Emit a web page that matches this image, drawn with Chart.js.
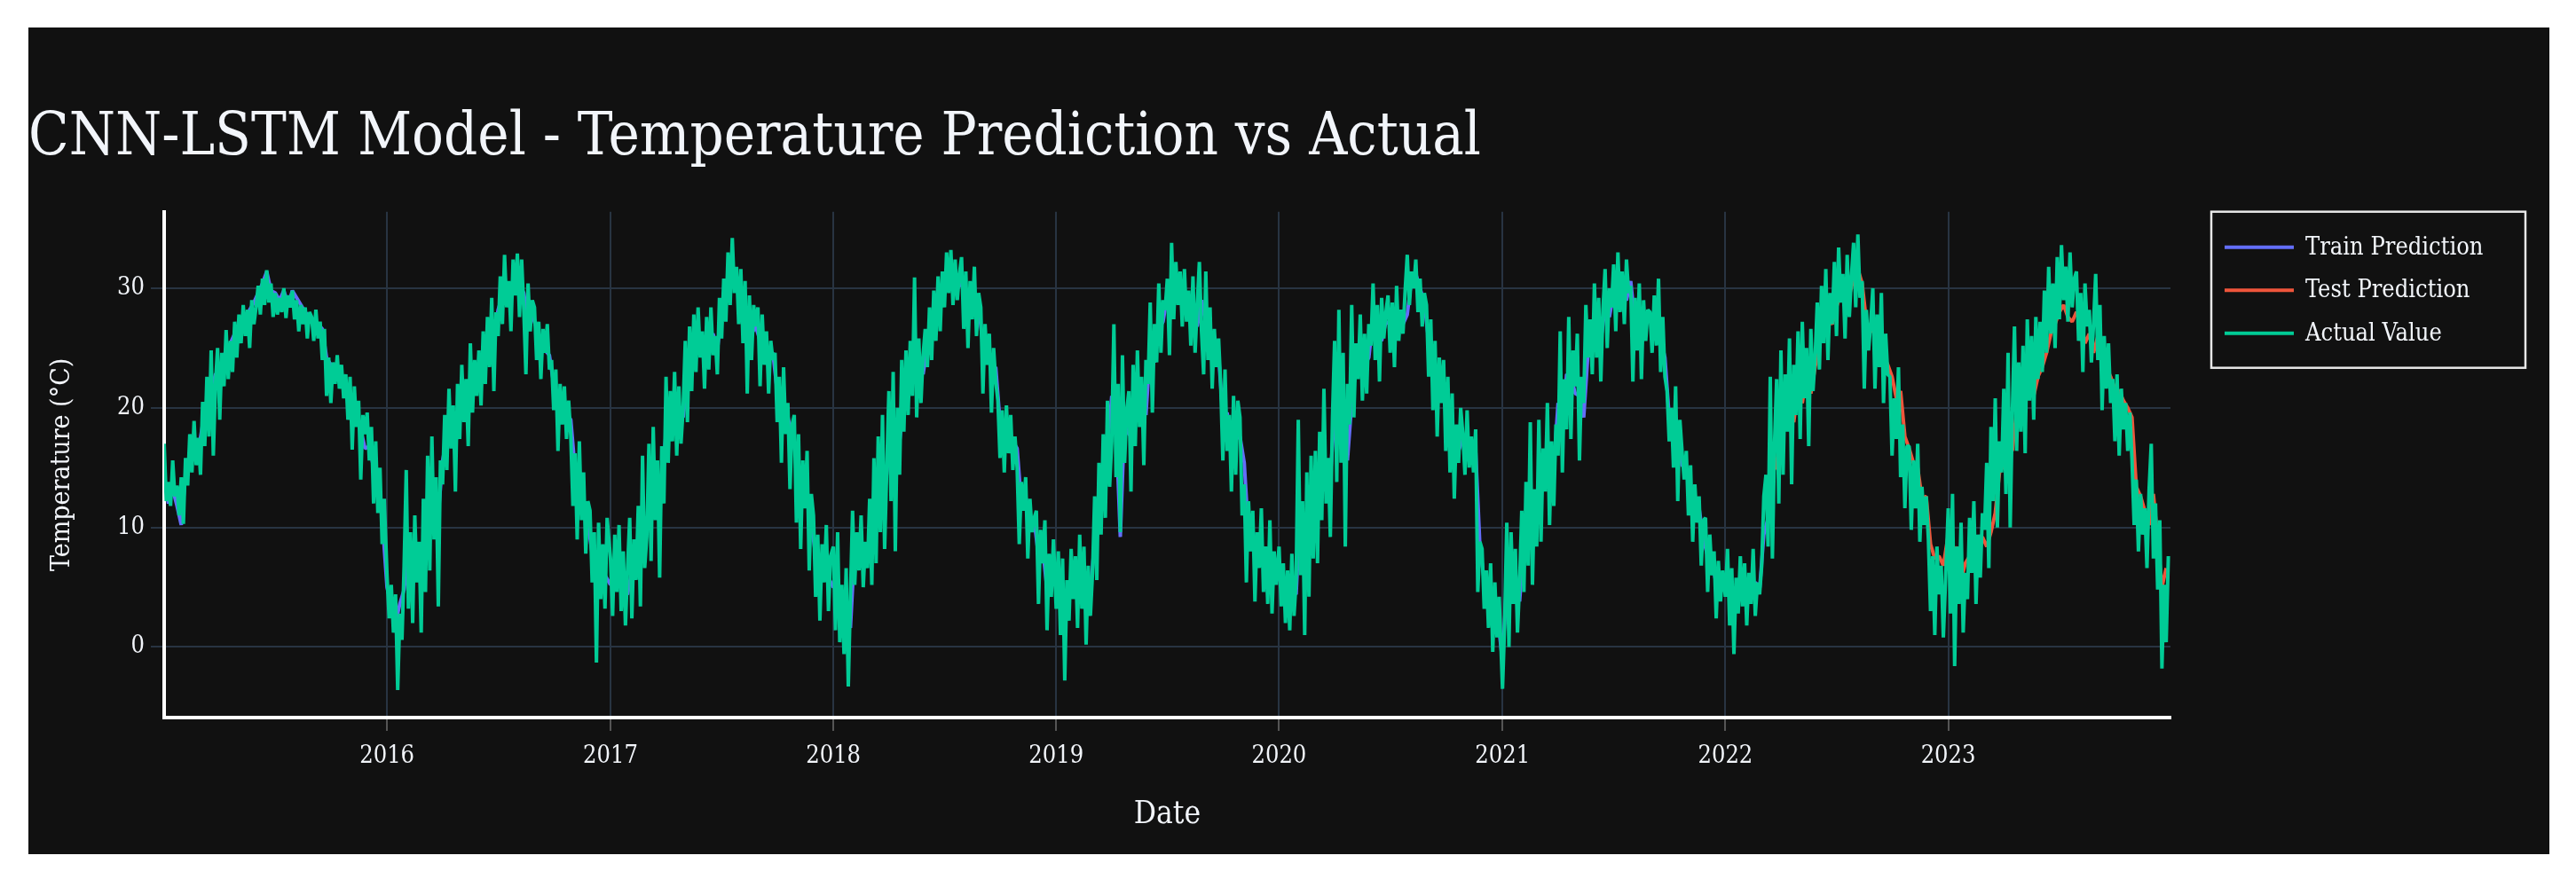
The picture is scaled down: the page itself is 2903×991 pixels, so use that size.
<!DOCTYPE html>
<html>
<head>
<meta charset="utf-8">
<title>CNN-LSTM Model - Temperature Prediction vs Actual</title>
<script src="https://cdn.jsdelivr.net/npm/chart.js@4.4.1/dist/chart.umd.min.js"></script>
<style>
  html, body { margin: 0; padding: 0; background: #ffffff; }
  #wrap { position: absolute; left: 32px; top: 31px; width: 2841px; height: 932px; background: #111111; }
</style>
</head>
<body>
<div id="wrap"><canvas id="tempChart"></canvas></div>
<script>
const actual2015 = [
  17.0, 12.2, 13.8, 11.8, 15.6, 12.6, 13.5, 11.0, 14.2,
  10.3, 15.8, 13.5, 17.8, 14.6, 18.9, 15.2, 17.5,
  14.4, 20.5, 16.8, 22.6, 17.6, 24.8, 16.0, 22.0, 25.0,
  19.0, 24.6, 21.8, 26.5, 22.4, 25.6, 23.0, 27.2,
  24.2, 27.8, 25.4, 28.6, 26.0, 28.2, 25.0, 29.0, 27.0,
  28.4, 30.2, 27.8, 30.8, 28.6, 31.5, 28.8, 30.4,
  27.6, 29.6, 27.8, 29.2, 28.0, 30.0, 27.5, 29.4, 28.4,
  29.8, 27.4, 29.0, 26.4, 28.6, 27.0, 28.4, 25.8, 28.0,
  27.6, 25.6, 28.2, 25.8, 27.2, 24.0, 26.6, 21.0,
  24.2, 20.4, 23.8, 22.0, 24.4, 21.6, 23.6, 20.8, 22.8,
  19.0, 22.6, 16.5, 21.8, 18.4, 20.6, 14.0, 19.4, 17.8,
  19.6, 15.6, 18.4, 12.0, 17.2, 11.2, 15.0, 8.6, 12.4
];
const actual2016 = [
  6.0, 2.4, 5.2, 1.2, 4.4, -3.6, 2.8, 0.6, 6.8,
  14.8, 3.2, 9.6, 2.0, 11.0, 5.4, 8.8, 1.2,
  12.4, 4.6, 16.0, 6.4, 17.6, 9.0, 14.2, 3.4, 15.6,
  13.6, 19.4, 14.8, 21.6, 16.6, 20.2, 13.0, 22.0,
  17.4, 23.6, 18.8, 22.4, 16.8, 25.4, 19.6, 24.0, 21.0,
  24.8, 20.2, 26.4, 22.0, 27.6, 23.4, 29.2, 21.4,
  28.0, 26.0, 31.0, 27.0, 32.8, 28.4, 30.6, 26.4, 32.4,
  29.4, 32.9, 27.6, 32.4, 28.2, 22.8, 30.4, 26.4, 29.0,
  28.4, 24.0, 27.2, 22.4, 26.6, 24.6, 27.0, 23.2,
  24.0, 19.8, 23.2, 16.4, 22.0, 18.6, 21.8, 17.4, 20.6,
  17.6, 11.8, 16.2, 9.0, 17.2, 10.6, 14.6, 7.8, 12.2,
  11.4, 5.4, 9.6, -1.3, 10.4, 4.0, 8.6, 3.2, 10.8
];
const actual2017 = [
  7.4, 2.6, 9.4, 4.6, 10.2, 3.0, 8.0, 1.8, 6.6,
  10.8, 2.4, 9.0, 5.6, 11.8, 3.4, 16.0, 6.6,
  9.2, 17.0, 7.2, 18.4, 10.6, 15.6, 5.8, 16.8, 12.0,
  22.6, 15.4, 21.4, 17.2, 23.0, 16.0, 21.8, 17.0,
  20.0, 25.6, 18.8, 26.8, 21.4, 27.8, 23.0, 28.4, 24.2,
  26.4, 21.6, 27.6, 23.2, 28.4, 24.4, 26.0, 22.8,
  29.2, 25.8, 30.8, 27.2, 33.0, 28.6, 34.2, 29.6, 31.8,
  27.0, 31.6, 25.4, 30.6, 21.2, 29.4, 24.0, 28.6, 26.8,
  28.4, 21.8, 27.8, 23.6, 26.4, 21.2, 25.6, 24.0,
  24.6, 18.8, 22.6, 15.4, 23.4, 17.8, 20.4, 13.2, 18.6,
  19.4, 10.4, 17.8, 8.2, 15.6, 11.6, 16.4, 6.4, 12.8,
  11.0, 4.2, 9.4, 2.2, 8.6, 5.4, 10.2, 3.0, 7.6
];
const actual2018 = [
  8.4, 1.4, 9.6, 0.4, 5.2, -0.6, 6.6, -3.3, 4.2,
  11.4, 5.2, 9.6, 6.4, 11.0, 5.0, 8.8, 6.6,
  12.4, 5.2, 15.8, 7.0, 17.6, 9.6, 19.4, 8.2, 15.0,
  21.4, 12.2, 23.0, 8.0, 20.0, 14.4, 24.0, 18.0,
  24.8, 19.4, 25.6, 21.0, 30.9, 19.2, 25.8, 20.4, 24.4,
  26.6, 23.4, 28.4, 24.0, 29.8, 25.6, 31.0, 26.4,
  31.4, 28.4, 33.0, 29.6, 33.2, 28.6, 32.4, 29.0, 31.2,
  32.6, 26.6, 31.4, 25.0, 30.6, 27.4, 31.8, 26.0, 29.6,
  28.4, 21.2, 27.0, 23.6, 26.2, 19.6, 25.0, 22.2,
  20.6, 15.8, 19.8, 14.6, 20.2, 16.2, 19.4, 14.8, 17.6,
  15.0, 8.6, 13.8, 11.4, 14.2, 7.4, 12.4, 9.6, 10.8,
  11.4, 3.6, 9.8, 7.0, 10.6, 1.4, 7.8, 4.2, 9.0
];
const actual2019 = [
  3.2, 8.0, 1.0, 7.4, -2.8, 5.6, 2.2, 8.2, 4.0,
  7.6, 1.6, 9.4, 3.2, 8.4, 0.2, 6.8, 2.6,
  6.2, 12.6, 5.6, 15.4, 9.4, 17.8, 10.8, 20.6, 13.4,
  17.2, 27.0, 14.2, 22.0, 9.6, 24.4, 15.4, 19.8,
  21.4, 13.0, 23.6, 16.8, 24.8, 18.4, 22.6, 15.2, 24.0,
  22.0, 28.8, 19.6, 27.0, 23.8, 30.4, 24.6, 29.0,
  28.2, 30.8, 24.4, 33.8, 27.4, 32.2, 28.6, 31.4, 26.8,
  31.6, 27.2, 29.8, 25.2, 31.0, 24.6, 28.6, 32.2, 26.4,
  22.8, 31.4, 24.0, 28.4, 21.6, 26.6, 23.4, 25.8,
  21.8, 15.6, 23.2, 16.4, 19.4, 13.0, 21.0, 14.4, 20.6,
  19.2, 11.0, 13.6, 5.4, 12.2, 8.0, 11.4, 3.8, 9.6,
  6.6, 11.6, 4.6, 8.4, 3.6, 10.6, 2.8, 8.0, 5.2
];
const actual2020 = [
  8.4, 3.4, 7.0, 2.0, 6.4, 1.4, 7.8, 2.6, 5.6,
  19.0, 6.0, 12.2, 1.0, 14.6, 4.2, 16.0, 7.4,
  16.4, 7.0, 18.0, 10.6, 21.6, 12.0, 15.8, 9.2, 19.2,
  25.6, 13.8, 28.2, 15.4, 24.6, 8.4, 22.0, 18.6,
  28.6, 19.2, 25.4, 22.4, 27.8, 20.6, 26.2, 21.2, 27.0,
  25.2, 30.4, 24.0, 28.6, 22.2, 29.2, 25.8, 28.0,
  29.4, 24.6, 28.8, 23.4, 30.2, 25.6, 28.2, 26.2, 29.8,
  32.8, 28.6, 31.4, 30.0, 32.4, 28.0, 30.8, 26.8, 29.6,
  28.6, 22.6, 27.4, 19.8, 25.6, 17.6, 24.2, 20.4,
  24.0, 16.4, 22.6, 14.6, 21.2, 12.4, 18.6, 15.4, 20.0,
  17.8, 14.4, 19.8, 15.0, 17.6, 14.6, 18.2, 4.6, 8.8,
  8.2, 3.2, 6.4, 1.6, 7.0, -0.4, 5.4, 0.8, 4.2
];
const actual2021 = [
  -3.5, 2.0, 10.4, 0.0, 9.6, 3.6, 8.2, 1.2, 5.4,
  11.4, 4.6, 13.8, 6.8, 18.8, 5.2, 13.2, 8.4,
  19.0, 8.8, 16.6, 13.0, 20.4, 10.2, 17.2, 11.8, 18.6,
  16.0, 26.4, 14.6, 22.4, 18.2, 27.6, 17.4, 24.8,
  21.8, 26.2, 15.6, 22.6, 20.4, 28.6, 24.2, 27.4, 22.8,
  30.4, 24.2, 29.2, 22.2, 28.2, 31.6, 25.0, 30.0,
  28.4, 32.0, 26.4, 33.0, 28.0, 31.4, 27.0, 32.4, 29.6,
  30.2, 22.2, 29.2, 24.8, 30.4, 22.4, 29.0, 25.6, 28.2,
  28.0, 24.6, 29.4, 25.2, 30.8, 23.0, 27.6, 22.6,
  21.4, 17.2, 20.0, 15.0, 21.8, 12.2, 19.0, 16.4, 14.0,
  16.4, 11.0, 15.2, 8.8, 13.6, 10.4, 12.6, 6.8, 10.6,
  10.8, 4.6, 9.4, 6.0, 8.0, 2.4, 7.2, 3.8, 6.4
];
const actual2022 = [
  4.2, 8.2, 1.8, 6.6, -0.6, 5.8, 2.8, 7.6, 3.4,
  7.0, 1.8, 6.2, 3.6, 8.2, 2.6, 5.4, 4.4,
  6.8, 12.6, 14.4, 8.4, 22.6, 7.4, 17.0, 22.4, 12.0,
  24.8, 14.4, 22.8, 18.0, 25.8, 13.6, 23.6, 19.4,
  26.4, 17.4, 27.2, 20.8, 25.0, 16.8, 26.6, 21.4, 24.2,
  28.8, 23.2, 30.2, 25.4, 31.6, 24.0, 29.6, 27.0,
  32.2, 26.0, 33.4, 28.8, 31.2, 25.8, 32.8, 27.6, 31.0,
  33.8, 28.4, 34.5, 29.2, 30.6, 21.6, 28.2, 24.8, 27.0,
  30.0, 21.6, 27.8, 23.4, 29.6, 20.4, 26.2, 22.8,
  22.6, 16.0, 20.8, 17.4, 23.4, 14.2, 18.6, 11.6, 16.8,
  16.8, 9.8, 15.6, 11.6, 17.0, 8.8, 13.4, 10.2, 12.6,
  9.0, 3.0, 7.6, 1.0, 8.4, 4.4, 6.8, 0.8, 5.4
];
const actual2023 = [
  11.6, 2.8, 12.8, -1.6, 8.4, 3.6, 10.4, 1.2, 6.2,
  4.0, 10.8, 6.2, 12.2, 3.6, 9.4, 5.8, 11.2,
  9.8, 15.4, 6.6, 18.4, 12.2, 20.8, 10.0, 17.2, 14.6,
  21.6, 12.8, 24.6, 10.0, 19.6, 26.8, 16.4, 23.8,
  18.0, 25.2, 16.2, 27.4, 20.6, 26.0, 19.0, 27.6, 22.4,
  27.2, 23.0, 29.8, 24.6, 31.8, 26.2, 30.4, 25.0,
  32.6, 27.4, 33.6, 29.0, 31.8, 27.2, 33.0, 28.4, 30.8,
  31.4, 25.6, 29.6, 23.0, 30.4, 26.8, 28.2, 23.8, 27.0,
  31.2, 24.0, 28.6, 19.8, 26.0, 21.6, 25.4, 20.4,
  22.4, 17.2, 22.8, 16.0, 21.6, 18.2, 20.4, 16.4, 19.6,
  15.6, 10.2, 14.0, 8.0, 12.8, 9.4, 11.6, 6.6, 13.2,
  17.0, 7.4, 12.0, 4.8, 10.6, -1.8, 5.2, 0.4, 7.6
];

// Train prediction, one value per week from 1 January of each year
const trainPred2015 = [14.0, 12.0, 13.2, 11.8, 10.2, 14.4, 16.0, 17.2, 16.4, 18.6, 20.2, 21.4, 22.8,
  23.0, 24.4, 25.0, 25.8, 26.6, 26.8, 27.4, 28.2, 28.8, 29.6, 30.4, 31.4, 29.8,
  29.6, 29.0, 29.8, 28.6, 29.8, 29.2, 28.6, 28.0, 27.6, 27.4, 27.0, 26.6, 24.2,
  23.6, 22.4, 23.0, 22.2, 21.6, 20.8, 19.6, 18.2, 16.6, 16.8, 15.0, 13.6, 10.8];
const trainPred2016 = [5.0, 3.4, 2.0, 3.6, 4.8, 8.2, 6.6, 7.4, 6.0, 10.2, 11.4, 12.2, 11.0,
  15.6, 17.4, 18.2, 17.0, 18.8, 20.0, 21.2, 21.6, 22.4, 23.4, 24.6, 25.8, 26.0,
  28.2, 29.4, 30.2, 29.0, 30.6, 30.4, 29.6, 27.2, 27.8, 26.6, 25.2, 24.8, 24.4,
  22.0, 20.8, 20.2, 19.6, 19.0, 14.8, 13.4, 12.0, 10.4, 7.8, 6.4, 7.0, 6.0];
const trainPred2017 = [5.2, 6.4, 6.0, 4.6, 4.4, 6.4, 7.2, 8.8, 9.6, 11.2, 12.6, 11.6, 13.4,
  18.0, 19.0, 19.8, 19.6, 19.2, 22.4, 23.6, 24.6, 25.6, 25.0, 25.8, 26.2, 24.8,
  28.0, 29.0, 30.6, 31.4, 30.6, 28.8, 27.6, 26.2, 26.8, 25.6, 25.0, 24.0, 24.6,
  21.4, 19.8, 20.2, 18.4, 16.8, 14.4, 13.6, 13.0, 10.4, 7.6, 6.0, 7.4, 5.8];
const trainPred2018 = [5.0, 5.2, 2.8, 3.4, 1.6, 8.4, 7.8, 8.0, 7.6, 10.8, 12.4, 13.6, 12.6,
  16.6, 17.4, 15.6, 18.8, 20.6, 22.4, 23.2, 24.6, 22.8, 25.2, 26.4, 27.6, 28.4,
  30.2, 31.2, 31.6, 30.8, 30.2, 29.8, 28.4, 29.2, 28.6, 25.2, 24.6, 23.2, 23.4,
  18.8, 17.6, 17.8, 17.2, 16.6, 12.0, 12.6, 10.4, 10.6, 7.6, 8.2, 4.8, 6.6];
const trainPred2019 = [5.4, 4.4, 1.6, 4.8, 5.6, 5.0, 6.0, 4.8, 4.4, 9.0, 11.6, 14.0, 16.6,
  21.0, 18.6, 9.2, 19.0, 17.8, 17.6, 20.0, 21.2, 19.4, 25.0, 23.8, 26.6, 27.2,
  29.4, 29.8, 30.0, 30.2, 29.4, 29.2, 28.4, 26.8, 29.0, 27.0, 26.0, 24.2, 24.4,
  19.2, 19.6, 16.8, 17.4, 17.6, 15.4, 9.4, 9.8, 7.0, 8.4, 6.2, 6.4, 5.6];
const trainPred2020 = [5.8, 4.8, 4.2, 4.8, 4.4, 12.0, 7.0, 9.4, 11.4, 12.2, 15.0, 14.0, 14.2,
  19.6, 21.4, 20.0, 15.6, 20.4, 23.4, 25.0, 23.6, 24.2, 27.4, 26.2, 25.6, 27.2,
  27.0, 26.6, 27.6, 27.0, 27.8, 30.8, 31.2, 30.0, 28.8, 25.6, 23.8, 21.8, 22.4,
  19.8, 18.8, 16.8, 16.4, 17.4, 16.4, 17.2, 16.4, 8.4, 5.6, 4.4, 3.4, 3.0];
const trainPred2021 = [-1.2, 5.6, 5.0, 6.2, 3.8, 8.6, 10.8, 12.0, 10.6, 14.2, 16.4, 14.2, 15.0,
  20.4, 18.8, 22.8, 22.6, 21.2, 21.0, 19.2, 24.6, 25.2, 27.4, 25.6, 28.4, 27.6,
  29.6, 30.2, 29.4, 29.0, 30.6, 27.0, 26.8, 26.2, 27.4, 27.2, 27.4, 25.8, 24.2,
  19.2, 18.0, 17.4, 15.2, 14.8, 13.6, 12.4, 11.6, 9.0, 7.6, 7.4, 5.2, 5.0];
const trainPred2022 = [6.0, 4.2, 2.6, 4.4, 5.4, 4.4, 5.0, 5.4, 4.8, 9.4, 10.8];

// Test prediction, weekly; 2022 starts at week 10 (mid March)
const TEST_START_WEEK_2022 = 10;
const testPred2022 = [12.8, 14.6, 15.2, 18.6, 19.8, 20.4, 18.8, 21.6, 20.4, 22.8, 21.2, 23.4,
  25.4, 26.6, 27.4, 27.0, 28.4, 29.6, 28.8, 29.4, 30.8, 31.6, 30.4, 27.2, 26.6,
  26.2, 26.0, 24.4, 23.6, 22.6, 20.8, 21.4, 17.6, 16.6, 15.4, 15.0, 12.4, 12.6,
  8.6, 7.4, 7.6, 6.8];
const testPred2023 = [9.4, 7.0, 8.4, 5.6, 7.0, 7.6, 8.8, 7.8, 9.2, 8.4, 9.6, 11.2, 14.6,
  15.2, 17.6, 16.4, 19.8, 20.4, 21.4, 23.4, 21.0, 22.6, 23.4, 24.6, 26.2, 27.0,
  28.0, 28.6, 27.6, 27.2, 28.0, 27.4, 25.4, 26.2, 24.6, 26.0, 24.2, 23.4, 22.6,
  21.6, 21.4, 20.6, 20.0, 19.2, 13.4, 12.6, 11.4, 10.2, 12.8, 9.0, 5.0, 6.6];

const ACTUAL_YEARS = [2015, 2016, 2017, 2018, 2019, 2020, 2021, 2022, 2023];
const ACTUAL_BY_YEAR = [actual2015, actual2016, actual2017, actual2018, actual2019, actual2020, actual2021, actual2022, actual2023];
const TRAIN_YEARS = [2015, 2016, 2017, 2018, 2019, 2020, 2021, 2022];
const TRAIN_BY_YEAR = [trainPred2015, trainPred2016, trainPred2017, trainPred2018, trainPred2019, trainPred2020, trainPred2021, trainPred2022];

const X_TICK_YEARS = [2016, 2017, 2018, 2019, 2020, 2021, 2022, 2023];
const Y_TICKS = [0, 10, 20, 30];
const SERIES_NAMES = ['Train Prediction', 'Test Prediction', 'Actual Value'];
const SERIES_COLORS = ['#636efa', '#EF553B', '#00cc96'];

const DAY_MS = 86400000;
const FONT_FAMILY = "'DejaVu Serif Condensed', 'DejaVu Serif', serif";
const TEXT_COLOR = '#f2f5fa';
const GRID_COLOR = '#283442';

/**
 * Turn one year of samples into {x, y} points (x in ms since epoch)
 */
function toPoints(values, year, stepDays, firstStep) {
    const start = Date.UTC(year, 0, 1);
    return values.map((v, i) => ({ x: start + (firstStep + i) * stepDays * DAY_MS, y: v }));
}

const actualPoints = [].concat(...ACTUAL_YEARS.map((yr, k) => toPoints(ACTUAL_BY_YEAR[k], yr, 3.5, 0)));
const trainPoints = [].concat(...TRAIN_YEARS.map((yr, k) => toPoints(TRAIN_BY_YEAR[k], yr, 7, 0)));
const testPoints = toPoints(testPred2022, 2022, 7, TEST_START_WEEK_2022).concat(toPoints(testPred2023, 2023, 7, 0));

/**
 * Legend with a border box, drawn to the right of the plot area
 */
const boxedLegend = {
    id: 'boxedLegend',
    afterDraw(chart, args, opts) {
        const ctx = chart.ctx;
        const area = chart.chartArea;
        const x = area.right + opts.offsetX;
        const y = area.top;
        ctx.save();
        ctx.strokeStyle = opts.borderColor;
        ctx.lineWidth = opts.borderWidth;
        ctx.strokeRect(x, y, opts.width, opts.height);
        ctx.font = `${opts.fontSize}px ${FONT_FAMILY}`;
        ctx.textBaseline = 'middle';
        ctx.fillStyle = TEXT_COLOR;
        chart.data.datasets.forEach((ds, i) => {
            const rowY = y + opts.firstRow + i * opts.rowHeight;
            ctx.strokeStyle = ds.borderColor;
            ctx.lineWidth = 4;
            ctx.beginPath();
            ctx.moveTo(x + opts.lineStart, rowY);
            ctx.lineTo(x + opts.lineStart + opts.lineLength, rowY);
            ctx.stroke();
            ctx.fillText(ds.label, x + opts.textStart, rowY + 1);
        });
        ctx.restore();
    }
};

function lineDataset(i, points, order) {
    return {
        label: SERIES_NAMES[i],
        data: points,
        borderColor: SERIES_COLORS[i],
        backgroundColor: SERIES_COLORS[i],
        borderWidth: 4,
        borderJoinStyle: 'bevel',
        pointRadius: 0,
        tension: 0,
        fill: false,
        order: order
    };
}

new Chart(document.getElementById('tempChart'), {
    type: 'line',
    data: {
        datasets: [
            lineDataset(0, trainPoints, 2),
            lineDataset(1, testPoints, 1),
            lineDataset(2, actualPoints, 0)
        ]
    },
    options: {
        responsive: true,
        maintainAspectRatio: false,
        animation: false,
        layout: { padding: { left: 0, right: 427, top: 0, bottom: 0 } },
        plugins: {
            legend: { display: false },
            tooltip: { enabled: false },
            title: {
                display: true,
                text: 'CNN-LSTM Model - Temperature Prediction vs Actual',
                align: 'start',
                color: TEXT_COLOR,
                font: { family: FONT_FAMILY, size: 66.4, weight: 'normal', lineHeight: 1.2 },
                padding: { top: 86, bottom: 42 }
            },
            boxedLegend: {
                offsetX: 46,
                width: 354,
                height: 176,
                borderColor: '#e8e8e8',
                borderWidth: 2.5,
                fontSize: 27,
                firstRow: 40,
                rowHeight: 48.5,
                lineStart: 15,
                lineLength: 78,
                textStart: 106
            }
        },
        scales: {
            x: {
                type: 'linear',
                min: Date.UTC(2015, 0, 1),
                max: Date.UTC(2023, 11, 31),
                afterBuildTicks: (scale) => {
                    scale.ticks = X_TICK_YEARS.map(yr => ({ value: Date.UTC(yr, 0, 1) }));
                },
                afterFit: (scale) => { scale.height = 154; },
                border: { display: true, color: '#ffffff', width: 4 },
                grid: { color: GRID_COLOR, lineWidth: 2, tickLength: 15, tickColor: '#555555' },
                ticks: {
                    color: TEXT_COLOR,
                    padding: 13,
                    maxRotation: 0,
                    autoSkip: false,
                    font: { family: FONT_FAMILY, size: 27 },
                    callback: (value) => String(new Date(value).getUTCFullYear())
                },
                title: {
                    display: true,
                    text: 'Date',
                    color: TEXT_COLOR,
                    font: { family: FONT_FAMILY, size: 35, lineHeight: 1.2 },
                    padding: { top: 0, bottom: 23 }
                }
            },
            y: {
                min: -5.9,
                max: 36.4,
                afterBuildTicks: (scale) => {
                    scale.ticks = Y_TICKS.map(v => ({ value: v }));
                },
                afterFit: (scale) => { scale.width = 153; },
                border: { display: true, color: '#ffffff', width: 4 },
                grid: { color: GRID_COLOR, lineWidth: 2, tickLength: 15, tickColor: GRID_COLOR },
                ticks: {
                    color: TEXT_COLOR,
                    padding: 7,
                    font: { family: FONT_FAMILY, size: 27 }
                },
                title: {
                    display: true,
                    text: 'Temperature (°C)',
                    color: TEXT_COLOR,
                    font: { family: FONT_FAMILY, size: 30, lineHeight: 1.2 },
                    padding: { top: 20, bottom: 0 }
                }
            }
        }
    },
    plugins: [boxedLegend]
});
</script>
</body>
</html>
